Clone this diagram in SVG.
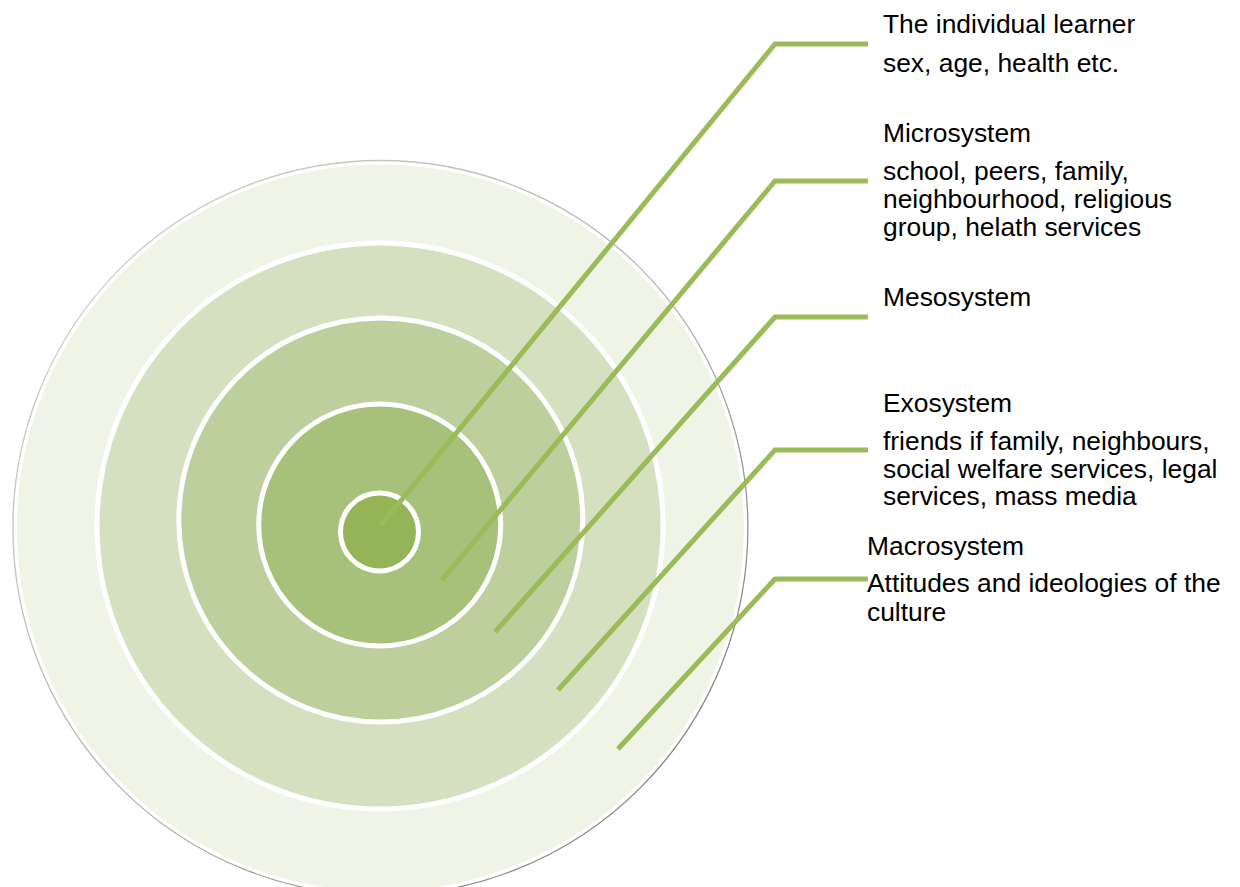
<svg xmlns="http://www.w3.org/2000/svg" width="1240" height="887" viewBox="0 0 1240 887">
  <defs>
    <!-- Soft rim shading: light at the top-left, darker towards the bottom-right -->
    <linearGradient id="rimShade" x1="0" y1="0" x2="1" y2="1">
      <stop offset="0" stop-color="#d4d4d4"/>
      <stop offset="0.55" stop-color="#b0b0b0"/>
      <stop offset="1" stop-color="#6e6e6e"/>
    </linearGradient>
  </defs>
  <style>
    .ring { stroke: #ffffff; stroke-width: 5; }
    .leader { fill: none; stroke: #9BBB59; stroke-width: 5; stroke-linecap: butt; stroke-linejoin: miter; }
    .label { font-family: "Liberation Sans", Arial, sans-serif; font-size: 26.4px; fill: #000000; }
  </style>
  <rect width="1240" height="887" fill="#ffffff"/>

  <!-- Nested target rings, outermost first -->
  <g id="macrosystem-ring">
    <circle cx="380.4" cy="528" r="367.5" fill="#ffffff" stroke="url(#rimShade)" stroke-width="1.3"/>
    <circle cx="380.4" cy="528" r="363.5" fill="#F0F4E7"/>
  </g>
  <g id="exosystem-ring">
    <circle class="ring" cx="380" cy="526" r="283" fill="#D5E0C1"/>
  </g>
  <g id="mesosystem-ring">
    <circle class="ring" cx="380.8" cy="520" r="202" fill="#BDCF9D"/>
  </g>
  <g id="microsystem-ring">
    <circle class="ring" cx="379.7" cy="525" r="121" fill="#A7C07A"/>
  </g>
  <g id="individual-ring">
    <circle class="ring" cx="379.5" cy="532" r="39" fill="#95B357"/>
  </g>

  <!-- Leader lines from each ring to its label -->
  <g id="connectors">
    <polyline class="leader" points="381,525 775,44 868,44"/>
    <polyline class="leader" points="442,580 775,181 868,181"/>
    <polyline class="leader" points="495,632 775,317 868,317"/>
    <polyline class="leader" points="558,690 775,450 868,450"/>
    <polyline class="leader" points="618,749 775,579 868,579"/>
  </g>

  <g id="label-individual">
    <text class="label" x="883" y="33">The individual learner</text>
    <text class="label" x="883" y="72">sex, age, health etc.</text>
  </g>
  <g id="label-microsystem">
    <text class="label" x="883" y="142">Microsystem</text>
    <text class="label" x="883" y="180">school, peers, family,</text>
    <text class="label" x="883" y="208">neighbourhood, religious</text>
    <text class="label" x="883" y="236">group, helath services</text>
  </g>
  <g id="label-mesosystem">
    <text class="label" x="883" y="306">Mesosystem</text>
  </g>
  <g id="label-exosystem">
    <text class="label" x="883" y="412">Exosystem</text>
    <text class="label" x="883" y="450">friends if family, neighbours,</text>
    <text class="label" x="883" y="478">social welfare services, legal</text>
    <text class="label" x="883" y="505">services, mass media</text>
  </g>
  <g id="label-macrosystem">
    <text class="label" x="867" y="555">Macrosystem</text>
    <text class="label" x="867" y="592">Attitudes and ideologies of the</text>
    <text class="label" x="867" y="621">culture</text>
  </g>
</svg>
